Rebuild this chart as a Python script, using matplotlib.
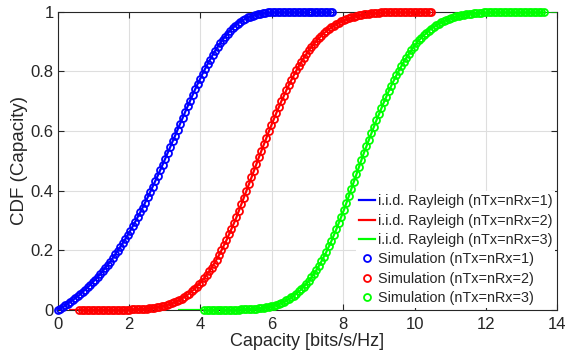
import numpy as np
import matplotlib
matplotlib.use("Agg")
import matplotlib.pyplot as plt

# CDF of capacity (points every 0.07 bits/s/Hz)
x_step = 0.07

blue_x0 = 0.0
blue_cdf = [0.000, 0.005, 0.010, 0.016, 0.021, 0.027, 0.033, 0.040, 0.046, 0.053,
            0.061, 0.068, 0.076, 0.084, 0.093, 0.102, 0.111, 0.120, 0.130, 0.141,
            0.151, 0.162, 0.174, 0.186, 0.198, 0.211, 0.224, 0.237, 0.251, 0.265,
            0.280, 0.295, 0.311, 0.327, 0.343, 0.360, 0.377, 0.395, 0.413, 0.431,
            0.449, 0.468, 0.487, 0.506, 0.526, 0.545, 0.565, 0.584, 0.604, 0.624,
            0.643, 0.663, 0.682, 0.701, 0.720, 0.739, 0.757, 0.774, 0.792, 0.808,
            0.824, 0.839, 0.854, 0.868, 0.881, 0.894, 0.905, 0.916, 0.926, 0.936,
            0.944, 0.952, 0.959, 0.965, 0.971, 0.975, 0.980, 0.983, 0.986, 0.989,
            0.991, 0.993, 0.995, 0.996, 0.997, 0.998, 0.998, 0.999, 0.999, 0.999,
            1.000, 1.000, 1.000, 1.000, 1.000, 1.000, 1.000, 1.000, 1.000, 1.000,
            1.000, 1.000, 1.000, 1.000, 1.000, 1.000, 1.000, 1.000, 1.000, 1.000,
            1.000]

red_x0 = 0.6
red_cdf = [0.000, 0.000, 0.000, 0.000, 0.000, 0.000, 0.000, 0.000, 0.000, 0.000,
           0.000, 0.000, 0.000, 0.000, 0.000, 0.000, 0.001, 0.001, 0.001, 0.001,
           0.001, 0.002, 0.002, 0.002, 0.003, 0.003, 0.004, 0.005, 0.006, 0.007,
           0.008, 0.009, 0.011, 0.012, 0.015, 0.017, 0.019, 0.022, 0.026, 0.029,
           0.033, 0.038, 0.043, 0.049, 0.055, 0.062, 0.069, 0.077, 0.086, 0.095,
           0.106, 0.117, 0.129, 0.141, 0.155, 0.169, 0.184, 0.200, 0.217, 0.234,
           0.253, 0.272, 0.291, 0.311, 0.333, 0.354, 0.376, 0.398, 0.421, 0.444,
           0.467, 0.490, 0.512, 0.534, 0.556, 0.577, 0.599, 0.620, 0.640, 0.661,
           0.680, 0.700, 0.718, 0.737, 0.754, 0.771, 0.787, 0.803, 0.818, 0.832,
           0.845, 0.858, 0.870, 0.881, 0.891, 0.901, 0.910, 0.919, 0.927, 0.934,
           0.941, 0.947, 0.953, 0.958, 0.963, 0.967, 0.971, 0.974, 0.977, 0.980,
           0.983, 0.985, 0.987, 0.988, 0.990, 0.991, 0.993, 0.994, 0.995, 0.995,
           0.996, 0.997, 0.997, 0.998, 0.998, 0.998, 0.999, 0.999, 0.999, 0.999,
           0.999, 1.000, 1.000, 1.000, 1.000, 1.000, 1.000, 1.000, 1.000, 1.000,
           1.000, 1.000]

green_x0 = 4.1
green_cdf = [0.000, 0.000, 0.000, 0.000, 0.000, 0.000, 0.000, 0.000, 0.000, 0.000,
             0.001, 0.001, 0.001, 0.001, 0.001, 0.002, 0.002, 0.002, 0.003, 0.003,
             0.004, 0.005, 0.006, 0.007, 0.008, 0.010, 0.011, 0.013, 0.015, 0.018,
             0.021, 0.024, 0.028, 0.032, 0.037, 0.042, 0.048, 0.055, 0.062, 0.070,
             0.078, 0.088, 0.098, 0.109, 0.121, 0.134, 0.148, 0.163, 0.179, 0.195,
             0.213, 0.231, 0.251, 0.271, 0.292, 0.313, 0.335, 0.358, 0.382, 0.406,
             0.430, 0.454, 0.479, 0.503, 0.526, 0.548, 0.570, 0.592, 0.613, 0.635,
             0.655, 0.676, 0.696, 0.715, 0.734, 0.752, 0.769, 0.786, 0.802, 0.817,
             0.832, 0.845, 0.858, 0.870, 0.882, 0.893, 0.903, 0.912, 0.920, 0.928,
             0.936, 0.943, 0.949, 0.954, 0.959, 0.964, 0.968, 0.972, 0.975, 0.979,
             0.981, 0.984, 0.986, 0.988, 0.989, 0.991, 0.992, 0.993, 0.994, 0.995,
             0.996, 0.996, 0.997, 0.997, 0.998, 0.998, 0.999, 0.999, 0.999, 0.999,
             0.999, 0.999, 1.000, 1.000, 1.000, 1.000, 1.000, 1.000, 1.000, 1.000,
             1.000, 1.000, 1.000, 1.000, 1.000, 1.000, 1.000]

# the analytic curves run a little past the simulated points
red_line_start = 0.35
green_line_start = 3.4
green_line_end = 14.0

labels_line = ['i.i.d. Rayleigh (nTx=nRx=1)', 'i.i.d. Rayleigh (nTx=nRx=2)',
               'i.i.d. Rayleigh (nTx=nRx=3)']
labels_sim = ['Simulation (nTx=nRx=1)', 'Simulation (nTx=nRx=2)',
              'Simulation (nTx=nRx=3)']
colors = ['#0000ff', '#ff0000', '#00ff00']

x_ticks = [0, 2, 4, 6, 8, 10, 12, 14]
y_ticks = [0, 0.2, 0.4, 0.6, 0.8, 1]
y_ticklabels = ['0', '0.2', '0.4', '0.6', '0.8', '1']


def grid_x(x0, values):
    return x0 + x_step * np.arange(len(values))


blue_x = grid_x(blue_x0, blue_cdf)
red_x = grid_x(red_x0, red_cdf)
green_x = grid_x(green_x0, green_cdf)

sim_x = [blue_x, red_x, green_x]
sim_y = [blue_cdf, red_cdf, green_cdf]
line_x = [blue_x,
          np.concatenate([[red_line_start], red_x]),
          np.concatenate([[green_line_start], green_x, [green_line_end]])]
line_y = [blue_cdf,
          [red_cdf[0]] + red_cdf,
          [green_cdf[0]] + green_cdf + [green_cdf[-1]]]

plt.rcParams['font.family'] = ['Liberation Sans', 'DejaVu Sans']
text_col = '#262626'

fig = plt.figure(figsize=(5.65, 3.56), dpi=100)
ax = fig.add_axes([57.7 / 565, 46 / 356, 499.6 / 565, 298.5 / 356])

for lx, ly, c, lab in zip(line_x, line_y, colors, labels_line):
    ax.plot(lx, ly, '-', color=c, lw=1.6, label=lab, zorder=3)
for sx, sy, c, lab in zip(sim_x, sim_y, colors, labels_sim):
    ax.plot(sx, sy, 'o', color=c, mfc='none', mec=c, ms=5.0, mew=1.3,
            label=lab, zorder=4, clip_on=False)

ax.set_xlim(0, 14)
ax.set_ylim(0, 1)
ax.set_xticks(x_ticks)
ax.set_yticks(y_ticks)
ax.set_yticklabels(y_ticklabels)
ax.tick_params(direction='in', length=4, width=0.8, top=True, right=True,
               labelsize=12, colors=text_col)
ax.tick_params(axis='x', pad=5)
ax.tick_params(axis='y', pad=3)
ax.grid(True, color='#dedede', lw=0.8)
ax.set_axisbelow(True)
for sp in ax.spines.values():
    sp.set_color(text_col)
    sp.set_linewidth(0.8)

ax.set_xlabel('Capacity [bits/s/Hz]', fontsize=13, color=text_col, labelpad=1)
ax.set_ylabel('CDF (Capacity)', fontsize=13.5, color=text_col, labelpad=2)

leg = ax.legend(loc='lower right', fontsize=10.4, frameon=True, fancybox=False,
                framealpha=1, edgecolor='none', facecolor='white',
                handlelength=1.1, handletextpad=0.2, labelspacing=0.37,
                borderpad=0.2, borderaxespad=0.15, numpoints=1)
leg.set_zorder(5)
for t in leg.get_texts():
    t.set_color(text_col)

fig.savefig('out.png', dpi=100)
